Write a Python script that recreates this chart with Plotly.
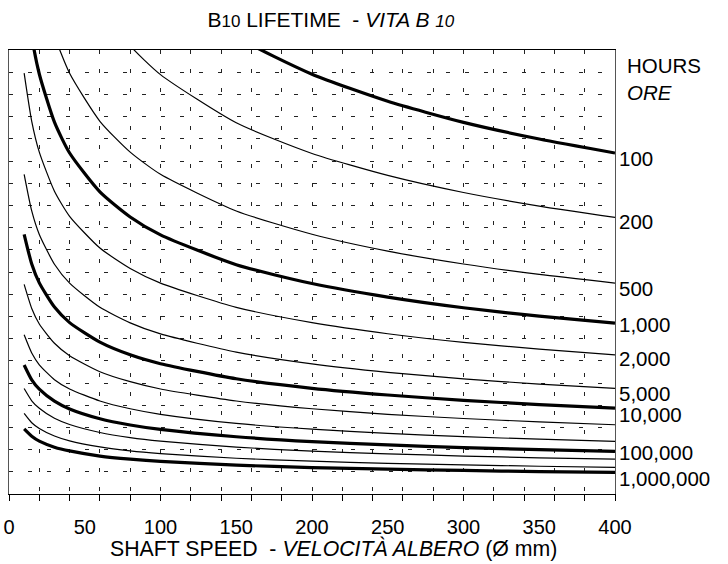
import plotly.graph_objects as go

# ---- data ----
shaft_speed = [10, 15, 20, 30, 40, 60, 80, 100, 150, 200, 250, 300, 350, 400]

life_hours = [100, 200, 500, 1000, 2000, 5000, 10000, 20000, 50000,
              100000, 200000, 500000, 1000000]
life_labels = ["100", "200", "500", "1,000", "2,000", "5,000", "10,000", "", "",
               "100,000", "", "", "1,000,000"]

load_100 = [46.45, 41.13, 37.73, 33.41, 30.65, 27.14, 24.89, 23.28, 20.61, 18.91, 17.69, 16.74, 15.99, 15.36]
load_200 = [37.68, 33.37, 30.61, 27.10, 24.86, 22.02, 20.19, 18.89, 16.72, 15.34, 14.35, 13.58, 12.97, 12.46]
load_500 = [28.73, 25.44, 23.34, 20.66, 18.95, 16.79, 15.40, 14.40, 12.75, 11.70, 10.94, 10.36, 9.89, 9.50]
load_1000 = [23.29, 20.62, 18.92, 16.75, 15.36, 13.61, 12.48, 11.67, 10.33, 9.48, 8.87, 8.39, 8.01, 7.70]
load_2000 = [18.96, 16.79, 15.40, 13.64, 12.51, 11.08, 10.16, 9.50, 8.41, 7.72, 7.22, 6.83, 6.53, 6.27]
load_5000 = [14.40, 12.75, 11.69, 10.35, 9.50, 8.41, 7.71, 7.21, 6.39, 5.86, 5.48, 5.19, 4.95, 4.76]
load_10000 = [11.70, 10.36, 9.51, 8.42, 7.72, 6.84, 6.27, 5.87, 5.19, 4.76, 4.46, 4.22, 4.03, 3.87]
load_20000 = [9.44, 8.36, 7.66, 6.79, 6.23, 5.51, 5.06, 4.73, 4.19, 3.84, 3.59, 3.40, 3.25, 3.12]
load_50000 = [7.17, 6.35, 5.82, 5.15, 4.73, 4.19, 3.84, 3.59, 3.18, 2.92, 2.73, 2.58, 2.47, 2.37]
load_100000 = [5.81, 5.14, 4.72, 4.18, 3.83, 3.39, 3.11, 2.91, 2.58, 2.36, 2.21, 2.09, 2.00, 1.92]
load_200000 = [4.75, 4.20, 3.86, 3.41, 3.13, 2.77, 2.54, 2.38, 2.11, 1.93, 1.81, 1.71, 1.63, 1.57]
load_500000 = [3.63, 3.21, 2.95, 2.61, 2.39, 2.12, 1.94, 1.82, 1.61, 1.48, 1.38, 1.31, 1.25, 1.20]
load_1000000 = [2.93, 2.60, 2.38, 2.11, 1.94, 1.71, 1.57, 1.47, 1.30, 1.19, 1.12, 1.06, 1.01, 0.97]

curves = [load_100, load_200, load_500, load_1000, load_2000, load_5000, load_10000,
          load_20000, load_50000, load_100000, load_200000, load_500000, load_1000000]

x_tick_labels = [0, 50, 100, 150, 200, 250, 300, 350, 400]
x_range = [0, 400]
y_range = [0, 20]

# ---- styling ----
FONT = "Arial, 'Liberation Sans', sans-serif"
thick_set = {100, 1000, 10000, 100000, 1000000}
label_yshift = {"100": -5, "200": -4, "500": -5, "1,000": -1, "2,000": -4,
                "5,000": -5, "10,000": -6, "100,000": -1, "1,000,000": -6}

FIG_W, FIG_H = 728, 564

fig = go.Figure()
for hours, loads in zip(life_hours, curves):
    fig.add_trace(go.Scatter(
        x=shaft_speed, y=loads, mode="lines",
        line=dict(color="black", width=3.2 if hours in thick_set else 1.2,
                  shape="spline", smoothing=0.6),
        name=f"{hours} h", showlegend=False, hoverinfo="skip"))

# dummy trace for the labelled overlay axis
fig.add_trace(go.Scatter(x=x_range, y=[None, None], xaxis="x2", mode="lines",
                         showlegend=False, hoverinfo="skip"))

annotations = []
for hours, loads, lab in zip(life_hours, curves, life_labels):
    if lab:
        annotations.append(dict(
            x=shaft_speed[-1], y=loads[-1], xref="x", yref="y", text=lab,
            showarrow=False, xanchor="left", yanchor="middle", xshift=2,
            yshift=label_yshift.get(lab, -4),
            font=dict(family=FONT, size=20.5, color="black")))
annotations.append(dict(x=1.016, y=0.966, xref="paper", yref="paper", text="HOURS",
                        showarrow=False, xanchor="left", yanchor="middle",
                        font=dict(family=FONT, size=20.5, color="black")))
annotations.append(dict(x=1.016, y=0.905, xref="paper", yref="paper", text="<i>ORE</i>",
                        showarrow=False, xanchor="left", yanchor="middle",
                        font=dict(family=FONT, size=20.5, color="black")))
annotations.append(dict(x=0.536, y=-0.123, xref="paper", yref="paper",
                        text="SHAFT SPEED  - <i>VELOCITÀ ALBERO</i> (Ø mm)",
                        showarrow=False, xanchor="center", yanchor="middle",
                        font=dict(family=FONT, size=21.3, color="black")))

grid_dash = "4px,15px"

fig.update_layout(
    width=FIG_W, height=FIG_H,
    margin=dict(l=9.3, r=113.2, t=50, b=69.7, autoexpand=False),
    paper_bgcolor="white", plot_bgcolor="white",
    font=dict(family=FONT, color="black"),
    title=dict(
        text="B<span style='font-size:17px'>10</span> LIFETIME  - <i>VITA B <span style='font-size:17px'>10</span></i>",
        x=0.531, xref="paper", xanchor="center",
        y=1 - 20 / FIG_H, yref="container", yanchor="middle",
        font=dict(family=FONT, size=21, color="black")),
    xaxis=dict(
        range=x_range, dtick=20, tick0=0, automargin=False,
        showticklabels=False, ticks="outside", ticklen=6, tickcolor="black",
        showgrid=True, gridcolor="#222", gridwidth=1, griddash=grid_dash,
        showline=True, linecolor="black", linewidth=1.3, mirror=True,
        zeroline=False),
    xaxis2=dict(
        range=x_range, overlaying="x", anchor="y", side="bottom", automargin=False,
        tickmode="array", tickvals=x_tick_labels, ticklabeloverflow="allow",
        ticks="outside", ticklen=15, tickcolor="rgba(0,0,0,0)",
        showgrid=False, showline=False, zeroline=False,
        tickfont=dict(family=FONT, size=20, color="black")),
    yaxis=dict(
        range=y_range, dtick=1, tick0=0, automargin=False,
        showticklabels=False, ticks="",
        showgrid=True, gridcolor="#222", gridwidth=1, griddash=grid_dash,
        showline=True, linecolor="#555", linewidth=1.3, mirror=True,
        zeroline=False),
    annotations=annotations,
)

# remove the default page margin so the figure fills the window exactly
fig.write_html("out.html",
               config={"displayModeBar": False, "staticPlot": True},
               post_script="document.body.style.margin='0';document.body.style.overflow='hidden';")
